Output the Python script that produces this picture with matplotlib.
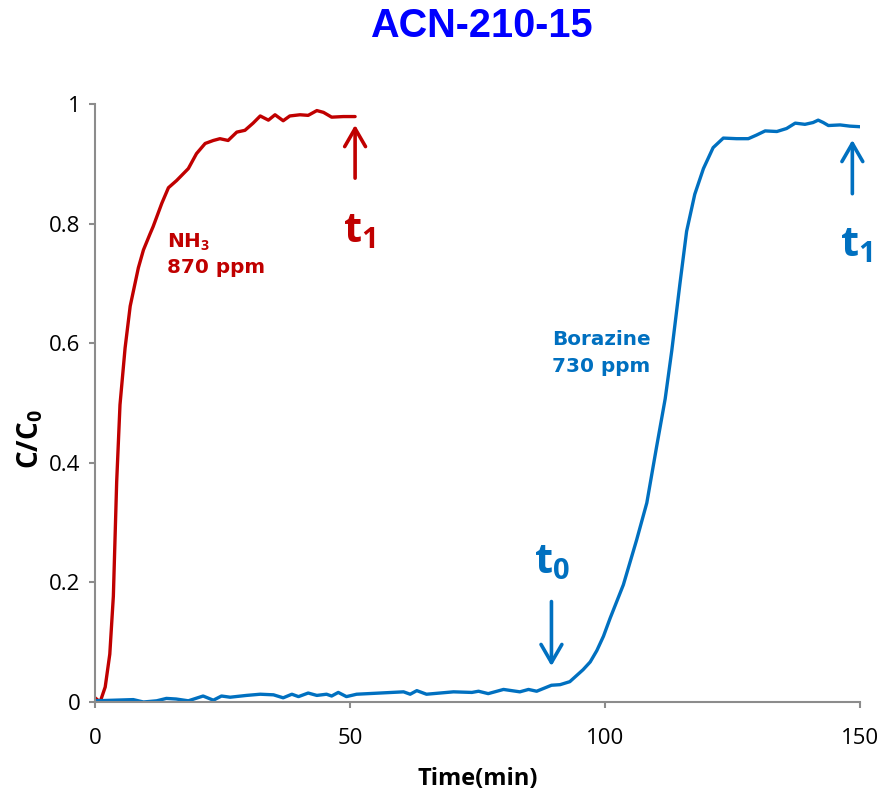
import matplotlib
matplotlib.use("Agg")
import matplotlib.pyplot as plt

plt.rcParams['mathtext.fontset'] = 'custom'
plt.rcParams['mathtext.rm'] = 'Open Sans'
plt.rcParams['mathtext.bf'] = 'Open Sans:bold'
plt.rcParams['mathtext.it'] = 'Open Sans:italic'

# Breakthrough curves, C/C0 versus time (min)
nh3_time = [0, 1, 2.0, 2.9, 3.6, 4.25, 4.9, 5.9, 6.9, 8.5, 9.5, 10.8, 11.4, 13.1, 14.4,
            16, 18.3, 19.9, 21.6, 23.2, 24.5, 26.1, 27.8, 29.4, 31, 32.4, 34, 35.3,
            36.9, 38.2, 40.2, 41.8, 43.5, 44.8, 46.4, 48.7, 51]
nh3_c = [0.007, 0.0, 0.025, 0.08, 0.177, 0.368, 0.497, 0.592, 0.662, 0.726, 0.756,
         0.783, 0.795, 0.834, 0.86, 0.872, 0.892, 0.917, 0.934, 0.939, 0.942, 0.939,
         0.953, 0.956, 0.968, 0.98, 0.973, 0.982, 0.972, 0.98, 0.982, 0.981, 0.989,
         0.986, 0.978, 0.979, 0.979]

bor_time = [0, 7.5, 9.5, 12.1, 14, 15.9, 18.3, 21.2, 23.2, 24.8, 26.5, 29.7, 32.4, 35,
            36.9, 38.6, 39.9, 41.8, 43.5, 45.4, 46.4, 47.7, 49.3, 51.3, 55.9, 60.5,
            61.8, 63.1, 65, 70.3, 73.9, 75.2, 77.1, 80.1, 83.3, 85, 86.6, 89.5, 91.2,
            93.1, 95.7, 97.1, 98.4, 99.7, 101, 103.6, 106.2, 108.2, 110.1, 111.8, 113.1,
            114.7, 116, 117.6, 119.3, 121.2, 123.2, 125.8, 128.1, 129.7, 131.4, 133.7,
            135.6, 137.3, 139.2, 140.8, 141.8, 142.8, 143.8, 146.1, 148, 150]
bor_c = [0.002, 0.004, 0.0, 0.002, 0.006, 0.005, 0.002, 0.01, 0.003, 0.01, 0.008,
         0.011, 0.013, 0.012, 0.007, 0.013, 0.009, 0.015, 0.011, 0.013, 0.01, 0.016,
         0.009, 0.013, 0.015, 0.017, 0.013, 0.019, 0.013, 0.017, 0.016, 0.018, 0.014,
         0.021, 0.017, 0.021, 0.018, 0.028, 0.029, 0.034, 0.054, 0.067, 0.086, 0.11,
         0.14, 0.196, 0.271, 0.333, 0.426, 0.507, 0.588, 0.70, 0.787, 0.849, 0.892,
         0.927, 0.943, 0.942, 0.942, 0.948, 0.955, 0.954, 0.959, 0.968, 0.966, 0.969,
         0.973, 0.969, 0.964, 0.965, 0.963, 0.962]

x_ticks = [0, 50, 100, 150]
y_ticks = [0, 0.2, 0.4, 0.6, 0.8, 1.0]
y_tick_labels = ['0', '0.2', '0.4', '0.6', '0.8', '1']

RED = '#C00000'
BLUE = '#0070C0'
GREY = '#8C8C8C'

fig = plt.figure(figsize=(8.82, 7.91), dpi=100)
ax = fig.add_axes([95 / 882, 1 - 702 / 791, 765 / 882, 598 / 791])

ax.plot(nh3_time, nh3_c, color=RED, lw=2.4, solid_joinstyle='round', solid_capstyle='round')
ax.plot(bor_time, bor_c, color=BLUE, lw=2.4, solid_joinstyle='round', solid_capstyle='round')

ax.set_xlim(0, 150)
ax.set_ylim(0, 1)
ax.set_xticks(x_ticks)
ax.set_xticklabels([str(t) for t in x_ticks])
ax.set_yticks(y_ticks)
ax.set_yticklabels(y_tick_labels)

for side in ('top', 'right'):
    ax.spines[side].set_visible(False)
for side in ('left', 'bottom'):
    ax.spines[side].set_color(GREY)
    ax.spines[side].set_linewidth(1.5)
ax.tick_params(axis='both', direction='out', length=4.5, width=1.5, color=GREY,
               labelsize=16)
ax.tick_params(axis='y', pad=6)
ax.tick_params(axis='x', pad=14)
for lab in ax.get_xticklabels() + ax.get_yticklabels():
    lab.set_fontfamily('Open Sans')

ax.set_xlabel('Time(min)', fontfamily='Open Sans', fontweight='bold', fontsize=17, labelpad=13)
ax.set_ylabel(r'$\mathbf{C/C_0}$', fontsize=20)
ax.yaxis.set_label_coords(-0.066, 0.44)

fig.text(481 / 882, 1 - 26 / 791, 'ACN-210-15', ha='center', va='center',
         fontsize=28.5, fontweight='bold', color='#0000FF',
         family=['Liberation Sans Narrow', 'Liberation Sans'])

# series labels
lab_kw = dict(fontfamily='DejaVu Sans', fontweight='bold', fontsize=14.4)
ax.text(14.2, 0.759, r'NH$_\mathbf{3}$', color=RED, va='baseline', ha='left',
        **lab_kw)
ax.text(14.2, 0.717, '870 ppm', color=RED, va='baseline', ha='left', **lab_kw)
ax.text(89.6, 0.597, 'Borazine', color=BLUE, va='baseline', ha='left', **lab_kw)
ax.text(89.6, 0.552, '730 ppm', color=BLUE, va='baseline', ha='left', **lab_kw)

# start/end markers
arrow_kw = dict(arrowstyle='->,head_length=1.3,head_width=0.75', lw=2.6,
                mutation_scale=10, shrinkA=0, shrinkB=0)
ax.annotate('', xy=(51, 0.965), xytext=(51, 0.876),
            arrowprops=dict(color=RED, **arrow_kw))
ax.annotate('', xy=(148.5, 0.94), xytext=(148.5, 0.85),
            arrowprops=dict(color=BLUE, **arrow_kw))
ax.annotate('', xy=(89.5, 0.06), xytext=(89.5, 0.168),
            arrowprops=dict(color=BLUE, **arrow_kw))

t_kw = dict(fontsize=30, ha='center', va='baseline')
ax.text(51.8, 0.769, r'$\mathbf{t_1}$', color=RED, **t_kw)
ax.text(149.2, 0.745, r'$\mathbf{t_1}$', color=BLUE, **t_kw)
ax.text(89.6, 0.216, r'$\mathbf{t_0}$', color=BLUE, **t_kw)

fig.savefig('out.png', dpi=100)
